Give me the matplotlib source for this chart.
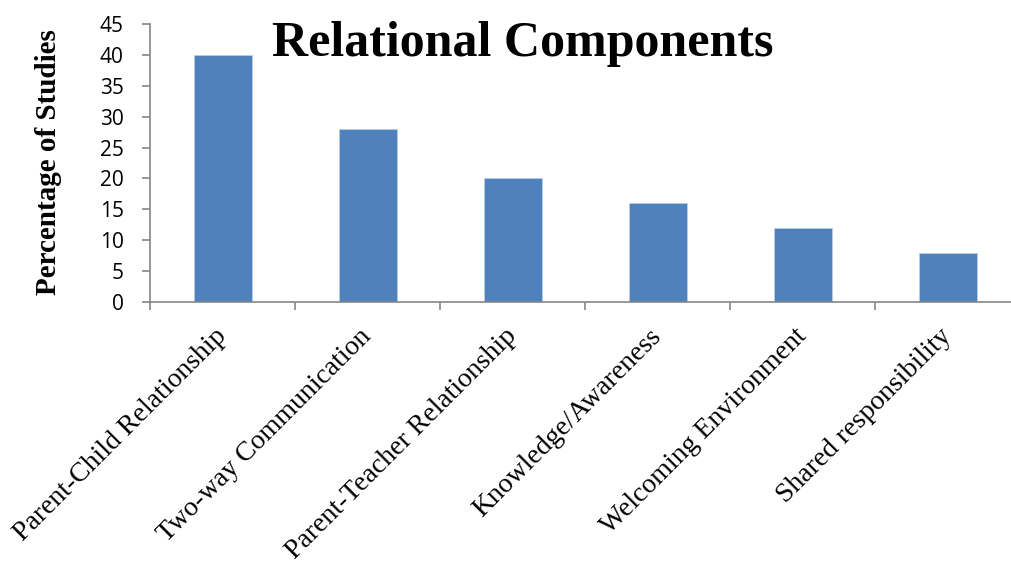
import matplotlib.pyplot as plt
import numpy as np

# Share of studies mentioning each relational component
categories = ['Parent-Child Relationship', 'Two-way Communication',
              'Parent-Teacher Relationship', 'Knowledge/Awareness',
              'Welcoming Environment', 'Shared responsibility']
percentages = [40, 28, 20, 16, 12, 8]
y_ticks = list(range(0, 50, 5))

bar_color = '#4F81BD'
axis_color = '#868686'

fig = plt.figure(figsize=(10.11, 5.66), dpi=100)
ax = fig.add_axes([150 / 1011, 1 - 302 / 566, 870 / 1011, 278 / 566])

x = np.arange(len(categories))
ax.bar(x, percentages, width=0.4, color=bar_color, edgecolor='#B9CDE5',
       linewidth=0.6, zorder=2)

ax.set_xlim(-0.5, len(categories) - 0.5)
ax.set_ylim(0, 45)
ax.set_yticks(y_ticks)
ax.set_yticklabels([str(t) for t in y_ticks], fontfamily='Open Sans', fontsize=15)

# category boundaries carry the ticks, labels sit at the centers
ax.set_xticks(np.arange(-0.5, len(categories), 1.0))
ax.set_xticklabels([])
ax.set_xticks(x, minor=True)
ax.set_xticklabels(categories, minor=True, rotation=45, ha='right', va='center',
                   rotation_mode='anchor', fontfamily='Liberation Serif', fontsize=20)
ax.tick_params(axis='x', which='minor', length=0, pad=22)
ax.tick_params(axis='x', which='major', length=6, color=axis_color, width=1.2)
ax.tick_params(axis='y', length=6, color=axis_color, width=1.2, pad=13)

for side in ['top', 'right']:
    ax.spines[side].set_visible(False)
for side in ['left', 'bottom']:
    ax.spines[side].set_color(axis_color)
    ax.spines[side].set_linewidth(1.2)

fig.text(49 / 1011, 1 - 162 / 566, 'Percentage of Studies', rotation=90,
         ha='center', va='center', fontfamily='Liberation Serif',
         fontweight='bold', fontsize=21)
fig.text(523 / 1011, 1 - 44 / 566, 'Relational Components', ha='center', va='center',
         fontfamily='Liberation Serif', fontweight='bold', fontsize=36)

fig.savefig('out.png', dpi=100, facecolor='white')
